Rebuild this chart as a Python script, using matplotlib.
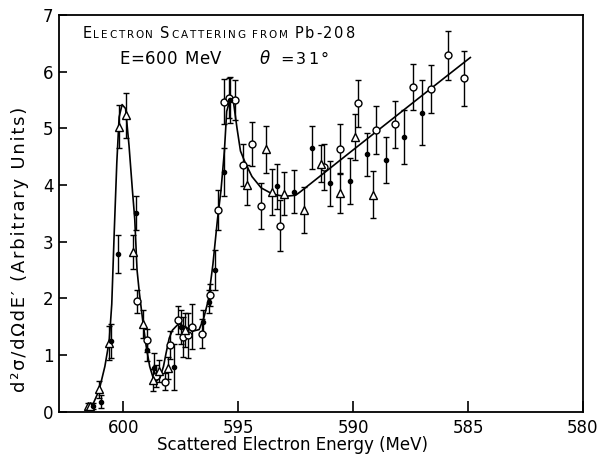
import matplotlib
matplotlib.use('Agg')
import matplotlib.pyplot as plt
from matplotlib.offsetbox import TextArea, HPacker, AnchoredOffsetbox

# points : (energie MeV, valeur, erreur)
circ_x = [599.39, 598.95, 598.58, 598.18, 597.97, 597.60, 597.41, 597.20, 597.02, 596.59,
          596.22, 595.86, 595.63, 595.41, 595.16, 594.80, 594.39, 594.00, 593.17, 591.28,
          590.58, 589.79, 588.99, 588.19, 587.39, 586.59, 585.89, 585.16]
circ_y = [1.95, 1.26, 0.63, 0.53, 1.18, 1.62, 1.32, 1.35, 1.50, 1.38,
          2.06, 3.56, 5.47, 5.54, 5.50, 4.35, 4.72, 3.63, 3.28, 4.32,
          4.63, 5.44, 4.97, 5.07, 5.73, 5.69, 6.29, 5.88]
circ_e = [0.20, 0.20, 0.20, 0.15, 0.25, 0.25, 0.35, 0.40, 0.40, 0.25,
          0.20, 0.35, 0.40, 0.35, 0.35, 0.37, 0.39, 0.41, 0.45, 0.40,
          0.44, 0.41, 0.42, 0.41, 0.41, 0.42, 0.43, 0.48]

tri_x = [601.55, 601.45, 601.05, 600.61, 600.20, 599.86, 599.56, 599.16, 598.72, 598.43,
         598.07, 597.31, 594.62, 593.81, 593.55, 593.02, 592.15, 591.41, 590.58, 589.90, 589.13]
tri_y = [0.10, 0.10, 0.40, 1.22, 5.03, 5.23, 2.82, 1.55, 0.56, 0.72,
         0.77, 1.44, 4.00, 4.63, 3.88, 3.85, 3.56, 4.38, 3.86, 4.85, 3.83]
tri_e = [0.05, 0.05, 0.15, 0.30, 0.38, 0.40, 0.30, 0.25, 0.20, 0.20,
         0.20, 0.30, 0.35, 0.42, 0.40, 0.38, 0.40, 0.33, 0.35, 0.41, 0.42]

dot_x = [601.30, 600.97, 600.55, 600.25, 599.45, 598.98, 598.65, 597.78, 597.48, 596.54,
         596.28, 596.03, 595.60, 595.35, 593.32, 592.59, 591.77, 591.00, 590.15, 589.38,
         588.58, 587.79, 587.02]
dot_y = [0.10, 0.18, 1.25, 2.78, 3.50, 1.09, 0.78, 0.79, 1.50, 1.59,
         1.94, 2.50, 4.23, 5.50, 3.98, 3.88, 4.66, 4.03, 4.07, 4.54,
         4.44, 4.85, 5.28]
dot_e = [0.05, 0.12, 0.30, 0.34, 0.30, 0.20, 0.25, 0.40, 0.30, 0.20,
         0.20, 0.35, 0.43, 0.40, 0.40, 0.38, 0.38, 0.40, 0.40, 0.38,
         0.40, 0.47, 0.58]

# courbe tracee a la main
fit_x = [601.60, 601.30, 601.05, 600.80, 600.61, 600.50, 600.39, 600.28, 600.18, 600.05,
         599.90, 599.75, 599.60, 599.50, 599.40, 599.30, 599.15, 599.00, 598.85, 598.70,
         598.55, 598.40, 598.25, 598.14, 598.00, 597.86, 597.60, 597.30, 597.00, 596.70,
         596.50, 596.30, 596.10, 595.90, 595.75, 595.60, 595.50, 595.35, 595.20, 595.05,
         594.90, 594.70, 594.40, 594.00, 593.50, 593.00, 592.50, 592.30, 590.00, 588.00,
         586.00, 584.90]
fit_y = [0.05, 0.15, 0.38, 0.80, 1.25, 1.90, 3.20, 4.40, 5.20, 5.42,
         5.35, 4.70, 3.90, 3.40, 2.50, 2.10, 1.60, 1.15, 0.80, 0.60,
         0.55, 0.60, 0.80, 1.03, 1.30, 1.44, 1.55, 1.50, 1.42, 1.45,
         1.65, 1.97, 2.60, 3.40, 3.90, 4.60, 5.30, 5.52, 5.45, 5.00,
         4.60, 4.40, 4.15, 3.95, 3.84, 3.80, 3.82, 3.88, 4.62, 5.26,
         5.90, 6.25]

plt.rcParams['font.family'] = 'DejaVu Sans'
fig = plt.figure(figsize=(6.01, 4.55), dpi=100)
ax = fig.add_axes([0.098, 0.095, 0.872, 0.872])

ax.plot(fit_x, fit_y, color='black', lw=1.2, zorder=2)
eb = dict(fmt='none', ecolor='black', elinewidth=1.0, capsize=2, capthick=1.0, zorder=3)
ax.errorbar(circ_x, circ_y, yerr=circ_e, **eb)
ax.errorbar(tri_x, tri_y, yerr=tri_e, **eb)
ax.errorbar(dot_x, dot_y, yerr=dot_e, **eb)
ax.plot(circ_x, circ_y, 'o', ms=5, mfc='white', mec='black', mew=1.0, ls='none', zorder=4)
ax.plot(tri_x, tri_y, '^', ms=5.5, mfc='white', mec='black', mew=1.0, ls='none', zorder=4)
ax.plot(dot_x, dot_y, 'o', ms=3, color='black', ls='none', zorder=4)

ax.set_xlim(602.8, 580)
ax.set_ylim(0, 7)
ax.set_xticks([600, 595, 590, 585, 580])
ax.set_yticks(range(8))
ax.tick_params(direction='in', top=False, right=False, labelsize=12, width=1.2)
ax.tick_params(axis='x', length=8, pad=5)
ax.tick_params(axis='y', length=6, pad=4)
for s in ax.spines.values():
    s.set_linewidth(1.3)

ax.set_xlabel('Scattered Electron Energy (MeV)', fontsize=12)
ax.xaxis.set_label_coords(0.445, -0.062)
hair = '\u200a'
ax.set_ylabel(hair.join('d²σ/dΩdE′ (Arbitrary Units)'), fontsize=13)
ax.yaxis.set_label_coords(-0.058, 0.41)


def spaced(parts, sep, italic_first=False):
    # un TextArea par lettre pour ecarter les caracteres
    kids = []
    for k, (txt, size) in enumerate(parts):
        for ch in txt:
            props = dict(fontsize=size)
            if italic_first and k == 0:
                props['style'] = 'italic'
            kids.append(TextArea(ch, textprops=props))
    return HPacker(children=kids, align='baseline', pad=0, sep=sep)


def put(box, x, y):
    ab = AnchoredOffsetbox(loc='lower left', child=box, pad=0, frameon=False,
                           bbox_to_anchor=(x, y), bbox_transform=ax.transAxes,
                           borderpad=0)
    ax.add_artist(ab)


# titre en petites capitales
big, small = 10.5, 7.5
put(spaced([('E', big), ('LECTRON ', small), ('S', big), ('CATTERING ', small),
            ('FROM ', small), ('Pb-208', big)], 1.3), 0.045, 0.935)
put(spaced([('E=600 MeV', 12)], 0.4), 0.116, 0.867)
put(spaced([('θ', 12), (' =31°', 11.5)], 1.6, italic_first=True), 0.384, 0.867)

plt.savefig('out.png', dpi=100)
